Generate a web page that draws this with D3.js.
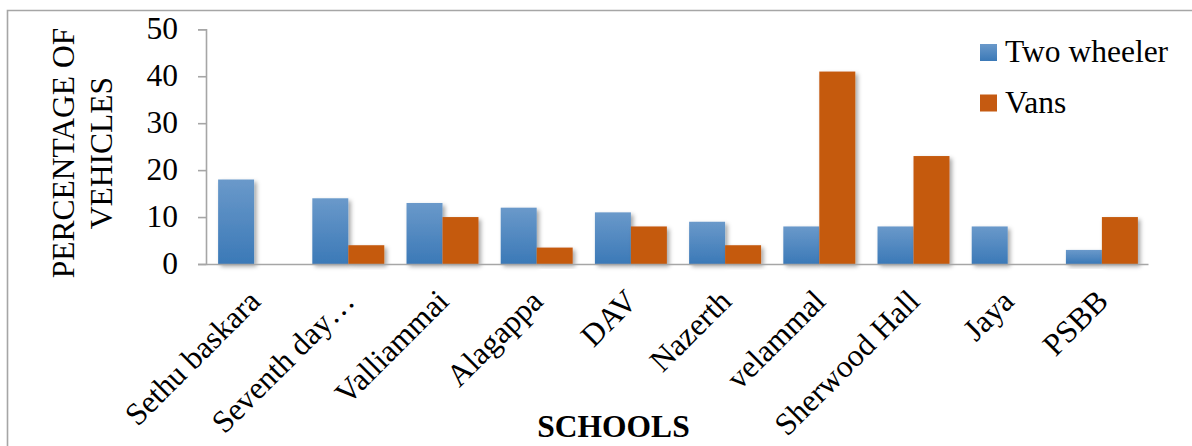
<!DOCTYPE html>
<html>
<head>
<meta charset="utf-8">
<script src="https://cdn.jsdelivr.net/npm/d3@7"></script>
<style>
  html, body { margin: 0; padding: 0; background: #fff; }
  svg { display: block; }
  text { font-family: "Liberation Serif", "Times New Roman", serif; fill: #000; }
</style>
</head>
<body>
<svg id="chart" width="1192" height="446"></svg>
<script>
const categories = ["Sethu baskara", "Seventh day\u2026", "Valliammai", "Alagappa", "DAV", "Nazerth", "velammal", "Sherwood Hall", "Jaya", "PSBB"];
const seriesNames = ["Two wheeler", "Vans"];
const twoWheeler = [18, 14, 13, 12, 11, 9, 8, 8, 8, 3];
const vans = [0, 4, 10, 3.5, 8, 4, 41, 23, 0, 10];
const yTicks = [0, 10, 20, 30, 40, 50];
const yTitleLines = ["PERCENTAGE OF", "VEHICLES"];
const xTitle = "SCHOOLS";

const colors = ["url(#gradBlue)", "#c55a11"];

const svg = d3.select("#chart");
const W = 1192, H = 446;
const plot = { left: 206, right: 1148, top: 29.3, bottom: 264 };

// defs
const defs = svg.append("defs");
const g1 = defs.append("linearGradient").attr("id", "gradBlue").attr("x1", 0).attr("y1", 0).attr("x2", 0).attr("y2", 1);
g1.append("stop").attr("offset", "0%").attr("stop-color", "#6a99ca");
g1.append("stop").attr("offset", "100%").attr("stop-color", "#3b79b7");
const f = defs.append("filter").attr("id", "shadow").attr("x", "-20%").attr("y", "-20%").attr("width", "150%").attr("height", "150%");
f.append("feDropShadow").attr("dx", 2.5).attr("dy", 2.5).attr("stdDeviation", 2).attr("flood-color", "#000").attr("flood-opacity", 0.35);

// frame
svg.append("path")
  .attr("d", `M7.5,${H + 5} L7.5,10.5 L${W + 5},10.5`)
  .attr("fill", "none").attr("stroke", "#a6a6a6").attr("stroke-width", 1.6);

// scales
const x0 = d3.scaleBand().domain(categories).range([plot.left, plot.right]).paddingInner(0.236).paddingOuter(0.118);
const x1 = d3.scaleBand().domain(seriesNames).range([0, x0.bandwidth()]);
const y = d3.scaleLinear().domain([0, 50]).range([plot.bottom, plot.top]);

// bars
const data = categories.map((c, i) => ({ c, vals: [twoWheeler[i], vans[i]] }));
const groups = svg.append("g").selectAll("g").data(data).join("g")
  .attr("transform", d => `translate(${x0(d.c) + 1},0)`);
groups.selectAll("rect")
  .data(d => d.vals.map((v, k) => ({ v, k })).filter(e => e.v > 0))
  .join("rect")
  .attr("x", e => x1(seriesNames[e.k]))
  .attr("y", e => y(e.v))
  .attr("width", x1.bandwidth())
  .attr("height", e => y(0) - y(e.v))
  .attr("fill", e => colors[e.k])
  .attr("filter", "url(#shadow)");

// y axis
const yAxis = d3.axisLeft(y).tickValues(yTicks).tickSize(8).tickPadding(20).tickFormat(d3.format("d"));
const ya = svg.append("g").attr("transform", `translate(${plot.left},0)`).call(yAxis);
ya.select(".domain").attr("stroke", "#a6a6a6").attr("stroke-width", 1.6);
ya.selectAll(".tick line").attr("stroke", "#a6a6a6").attr("stroke-width", 1.6);
ya.selectAll(".tick text")
  .attr("font-size", 31.5)
  .attr("font-family", "Liberation Serif, Times New Roman, serif")
  .attr("fill", "#000")
  .attr("dy", "0.3em");

// x axis
const xAxis = d3.axisBottom(x0).tickSize(0).tickFormat("");
const xa = svg.append("g").attr("transform", `translate(0,${plot.bottom})`).call(xAxis);
xa.select(".domain").attr("stroke", "#a6a6a6").attr("stroke-width", 1.6);

// x labels (rotated)
svg.append("g").selectAll("text").data(categories).join("text")
  .attr("transform", d => `translate(${x0(d) + x0.bandwidth() / 2 + 9},303) rotate(-45)`)
  .attr("text-anchor", "end")
  .attr("font-size", 31.5)
  .text(d => d);

// y title
const yt = svg.append("text").attr("transform", "translate(0,153) rotate(-90)").attr("text-anchor", "middle").attr("font-size", 31.5);
yTitleLines.forEach((t, i) => {
  yt.append("tspan").attr("x", 0).attr("y", 74 + i * 38).text(t);
});

// x title
svg.append("text").attr("x", 613.5).attr("y", 437).attr("text-anchor", "middle")
  .attr("font-size", 31.5).attr("font-weight", "bold").text(xTitle);

// legend
const leg = svg.append("g").selectAll("g").data(seriesNames).join("g")
  .attr("transform", (d, i) => `translate(980,${44 + i * 50.5})`);
leg.append("rect").attr("width", 17).attr("height", 17).attr("fill", (d, i) => colors[i]);
leg.append("text").attr("x", 25).attr("y", 18).attr("font-size", 31.5).text(d => d);
</script>
</body>
</html>
